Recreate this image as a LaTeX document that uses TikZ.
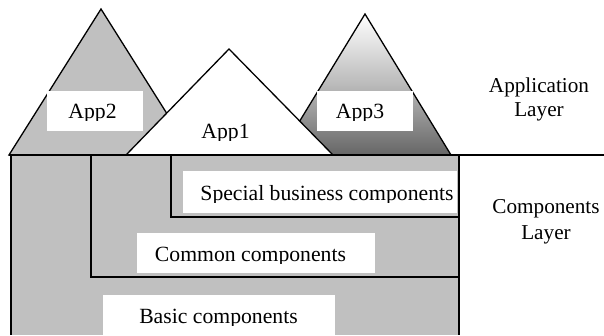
\documentclass[tikz,border=0pt]{standalone}
\usepackage{fontspec}
\setmainfont{Liberation Serif}
\definecolor{panelgray}{HTML}{C0C0C0}
\definecolor{darkfade}{HTML}{666666}
\tikzset{
  x=1pt,y=-1pt,
  outline/.style={draw=black,line width=1.3pt,line join=miter},
  rule/.style={draw=black,line width=1.4pt},
  whitebox/.style={fill=white,draw=none},
  lbl/.style={inner sep=0pt,anchor=base,font=\fontsize{21.7}{24}\selectfont},
  plainlbl/.style={inner sep=0pt,anchor=base,font=\fontsize{21.2}{24}\selectfont}
}
\begin{document}
\begin{tikzpicture}
\useasboundingbox (0,0) rectangle (604,335);
% layer panel
\fill[panelgray] (11,155) rectangle (459,335);
% triangles
\path[outline,fill=panelgray] (101,9) coordinate (a2top) -- (193,155) coordinate (a2r) -- (9,155) coordinate (a2l) -- cycle;
\path[outline,top color=white,bottom color=darkfade,middle color=darkfade!45!white] (365,14) coordinate (a3top) -- (451,155) coordinate (a3r) -- (279,155) coordinate (a3l) -- cycle;
\path[outline,fill=white] (229,49) coordinate (a1top) -- (333,155) coordinate (a1r) -- (126,155) coordinate (a1l) -- cycle;
% white label boxes
\fill[whitebox] (47,91) rectangle (143,131);
\fill[whitebox] (317,91) rectangle (413,131);
\fill[whitebox] (183,171) rectangle (457,213);
\fill[whitebox] (137,233) rectangle (375,273);
\fill[whitebox] (103,295) rectangle (335,335);
% nesting lines
\coordinate (topl) at (9,155);
\coordinate (topr) at (604,155);
\draw[rule] (topl) -- (topr);
\draw[rule] (11,155) -- (11,335);
\draw[rule] (91,155) -- (91,277) -- (459,277);
\draw[rule] (171,155) -- (171,217) -- (459,217);
\draw[rule] (459,155) -- (459,335);
% clipped labels
\begin{scope}
\clip (47,91) rectangle (143,120.5);
\node[lbl] (app2) at (92.5,118) {App2};
\end{scope}
\begin{scope}
\clip (317,91) rectangle (413,120.5);
\node[lbl] (app3) at (360,118) {App3};
\end{scope}
\begin{scope}
\clip (190,120) rectangle (260,140);
\node[lbl] (app1) at (225.5,138) {App1};
\end{scope}
\begin{scope}
\clip (183,171) rectangle (457,202.5);
\node[lbl] (special) at (327,200) {Special business components};
\end{scope}
\begin{scope}
\clip (137,233) rectangle (375,263.5);
\node[lbl] (common) at (250.5,261) {Common components};
\end{scope}
\begin{scope}
\clip (103,295) rectangle (335,325.5);
\node[lbl] (basic) at (218.5,323) {Basic components};
\end{scope}
% side labels
\node[plainlbl] (al1) at (539,92) {Application};
\node[plainlbl] (al2) at (539,116) {Layer};
\node[plainlbl] (cl1) at (546,213) {Components};
\node[plainlbl] (cl2) at (546,239) {Layer};
\end{tikzpicture}
\end{document}
